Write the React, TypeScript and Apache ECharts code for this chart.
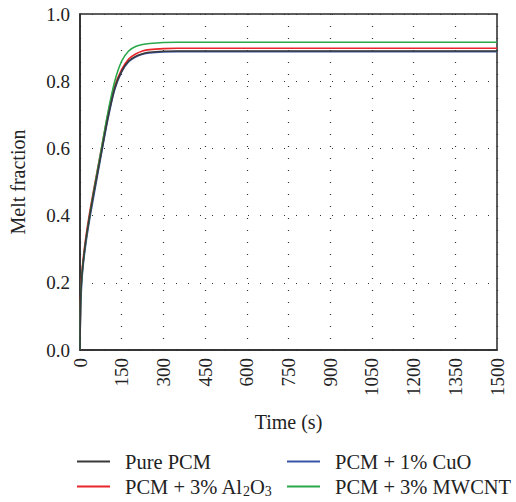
import React, { useEffect, useRef } from "react";
import * as echarts from "echarts";

const timeS = [0, 2, 5, 10, 20, 35, 50, 75, 100, 125, 150, 175, 200, 225, 250, 300, 350, 400, 600, 900, 1200, 1500];
const purePCM = [0, 0.14, 0.2, 0.25, 0.32, 0.4, 0.47, 0.58, 0.69, 0.78, 0.83, 0.86, 0.874, 0.882, 0.886, 0.889, 0.89, 0.89, 0.89, 0.89, 0.89, 0.89];
const al2o3 = [0, 0.15, 0.21, 0.26, 0.33, 0.41, 0.48, 0.59, 0.7, 0.785, 0.835, 0.866, 0.881, 0.89, 0.894, 0.897, 0.898, 0.898, 0.898, 0.898, 0.898, 0.898];
const cuo = [0, 0.12, 0.18, 0.24, 0.31, 0.39, 0.46, 0.575, 0.685, 0.775, 0.828, 0.858, 0.872, 0.88, 0.884, 0.887, 0.888, 0.888, 0.888, 0.888, 0.888, 0.888];
const mwcnt = [0, 0.14, 0.2, 0.25, 0.32, 0.4, 0.475, 0.59, 0.705, 0.8, 0.86, 0.89, 0.903, 0.909, 0.912, 0.915, 0.916, 0.916, 0.916, 0.916, 0.916, 0.916];
const seriesNames = ["Pure PCM", "PCM + 3% Al2O3", "PCM + 1% CuO", "PCM + 3% MWCNT"];
const seriesColors = ["#3a3a3a", "#e8262a", "#3a55a6", "#2aa84a"];

const FONT = "'Liberation Serif', 'Times New Roman', serif";

export default function App() {
  const ref = useRef<HTMLDivElement>(null);
  useEffect(() => {
    if (!ref.current) return;
    const chart = echarts.init(ref.current, undefined, { renderer: "svg" });
    const values = [purePCM, al2o3, cuo, mwcnt];
    const gridDots = { show: true, lineStyle: { color: "#333", width: 1.2, type: [1, 11] as any } };
    const legendPos = [
      { left: 77, top: 451 },
      { left: 77, top: 476 },
      { left: 287, top: 451 },
      { left: 287, top: 476 },
    ];
    chart.setOption({
      animation: false,
      backgroundColor: "#fff",
      grid: { left: 77, top: 14, width: 420, height: 336, show: true, borderColor: "#2a2a2a", borderWidth: 1.5, backgroundColor: "transparent" },
      xAxis: {
        type: "value",
        min: 0,
        max: 1500,
        interval: 150,
        name: "Time (s)",
        nameLocation: "middle",
        nameGap: 62,
        nameTextStyle: { fontFamily: FONT, fontSize: 20, color: "#222" },
        axisLine: { show: true, lineStyle: { color: "#2a2a2a", width: 1.5 } },
        axisTick: { show: false },
        axisLabel: { rotate: 90, margin: 8, fontFamily: FONT, fontSize: 19, color: "#222", formatter: (v: number) => String(v) },
        splitLine: gridDots,
      },
      yAxis: {
        type: "value",
        min: 0,
        max: 1,
        interval: 0.2,
        name: "Melt fraction",
        nameLocation: "middle",
        nameGap: 52,
        nameTextStyle: { fontFamily: FONT, fontSize: 20, color: "#222" },
        axisLine: { show: true, lineStyle: { color: "#2a2a2a", width: 1.5 } },
        axisTick: { show: false },
        axisLabel: { margin: 10, fontFamily: FONT, fontSize: 19, color: "#222", formatter: (v: number) => v.toFixed(1) },
        splitLine: gridDots,
      },
      legend: [0, 1, 2, 3].map((i) => ({
        data: [seriesNames[i]],
        ...legendPos[i],
        padding: 0,
        icon: "rect",
        itemWidth: 33,
        itemHeight: 2,
        formatter: (n: string) => (n.includes("Al2O3") ? "PCM + 3% Al{s|2}O{s|3}" : n),
        textStyle: {
          fontFamily: FONT,
          fontSize: 20.5,
          color: "#222",
          padding: [0, 0, 0, 10],
          rich: {
            s: { fontFamily: FONT, fontSize: 14, color: "#222", padding: [9, 0, 0, 0] },
          },
        },
      })),
      series: values.map((arr, i) => ({
        name: seriesNames[i],
        type: "line",
        data: timeS.map((t, j) => [t, arr[j]]),
        smooth: 0.3,
        showSymbol: false,
        symbol: "none",
        z: i === 0 ? 5 : 3,
        lineStyle: { color: seriesColors[i], width: 1.6 },
        itemStyle: { color: seriesColors[i] },
      })),
    });
    return () => chart.dispose();
  }, []);
  return <div ref={ref} style={{ position: "fixed", left: 0, top: 0, width: 516, height: 502 }} />;
}
